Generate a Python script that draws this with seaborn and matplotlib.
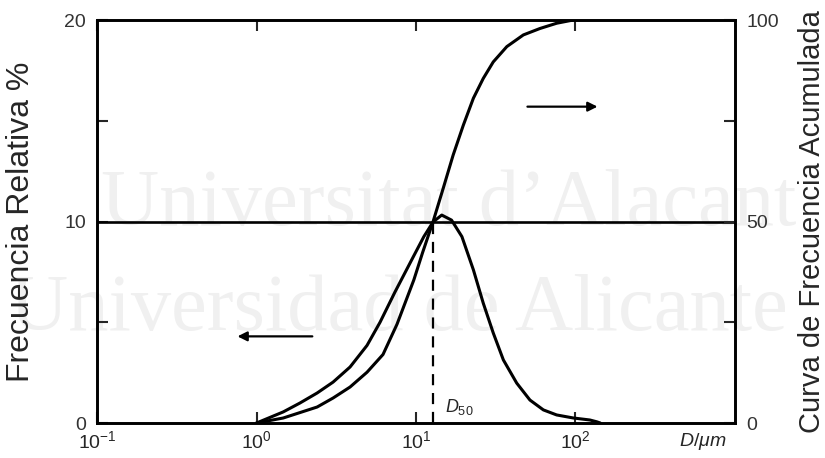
import numpy as np
import pandas as pd
from matplotlib import pyplot as plt
import seaborn as sns

# curva de frecuencia relativa (eje izquierdo, %)
freq_d = [1.0, 1.47, 1.87, 2.40, 3.02, 3.86, 4.93, 5.95, 7.38, 9.69, 11.2, 12.8, 14.5, 16.7, 19.4,
          22.9, 26.4, 30.5, 35.3, 42.8, 51.8, 62.9, 76.2, 96.8, 123, 136, 143]
freq_val = [0.0, 0.55, 0.99, 1.49, 2.03, 2.78, 3.85, 5.0, 6.5, 8.3, 9.25, 9.98, 10.32, 10.07, 9.25,
            7.6, 5.95, 4.47, 3.13, 1.98, 1.14, 0.65, 0.40, 0.25, 0.15, 0.06, 0.0]

# curva de frecuencia acumulada (eje derecho, %)
cum_d = [1.0, 1.47, 2.40, 3.02, 3.86, 4.93, 6.21, 7.60, 9.69, 11.0, 12.8, 14.8, 17.1, 19.8, 22.9,
         26.4, 30.5, 37.1, 47.1, 59.9, 76.2, 96.8]
cum_val = [0.0, 1.24, 3.97, 6.2, 8.93, 12.6, 17.0, 24.5, 35.5, 42.3, 50.0, 58.2, 66.5, 73.9, 80.6,
           85.5, 89.6, 93.4, 96.3, 97.9, 99.2, 100.0]

d50 = 12.8
x_ticks = [0.1, 1, 10, 100]
left_ticks = [0, 5, 10, 15, 20]
left_labels = ['0', '', '10', '', '20']
right_ticks = [0, 25, 50, 75, 100]
right_labels = ['0', '', '50', '', '100']

sns.set_style("ticks")
plt.rcParams['font.family'] = ['Liberation Sans', 'DejaVu Sans']
plt.rcParams['mathtext.fontset'] = 'custom'
plt.rcParams['mathtext.rm'] = 'Liberation Sans'
plt.rcParams['mathtext.it'] = 'Liberation Sans:italic'

df_f = pd.DataFrame({'D': freq_d, 'f': freq_val})
df_c = pd.DataFrame({'D': cum_d, 'c': cum_val})

fig = plt.figure(figsize=(8.25, 4.58), dpi=100)
ax = fig.add_axes([0.1176, 0.0764, 0.7733, 0.8799])
ax2 = ax.twinx()
ax.patch.set_alpha(0)
ax2.patch.set_alpha(0)

# marca de agua (detrás de todo)
wm = dict(family='Liberation Serif', color='#f0f0f0', fontsize=58, zorder=-5, transform=fig.transFigure)
fig.text(0.122, 1 - 225 / 458, 'Universitat d\u2019Alacant', **wm)
fig.text(0.012, 1 - 330 / 458, 'Universidad de Alicante', **wm)

sns.lineplot(data=df_f, x='D', y='f', ax=ax, color='black', lw=2.2, sort=False)
sns.lineplot(data=df_c, x='D', y='c', ax=ax2, color='black', lw=2.2, sort=False)

ax.set_xscale('log')
ax.set_xlim(0.1, 1000)
ax.set_ylim(0, 20)
ax2.set_ylim(0, 100)

ax.axhline(10, color='black', lw=1.9)
ax.plot([d50, d50], [0, 10], color='black', lw=1.6, ls=(0, (5, 3.5)))

# flechas
ax.annotate('', xy=(0.73, 4.3), xytext=(2.33, 4.3),
            arrowprops=dict(arrowstyle='-|>', color='black', lw=1.6, mutation_scale=14))
ax.annotate('', xy=(143, 15.7), xytext=(48, 15.7),
            arrowprops=dict(arrowstyle='-|>', color='black', lw=1.6, mutation_scale=14))

ax.text(15.2, 0.8, r'$\mathit{D_{50}}$', fontsize=13, va='center', ha='left')

ax.set_xticks(x_ticks)
ax.xaxis.set_minor_locator(plt.NullLocator())
ax.set_yticks(left_ticks)
ax.set_yticklabels(left_labels)
ax2.set_yticks(right_ticks)
ax2.set_yticklabels(right_labels)

ax.tick_params(axis='x', which='both', direction='in', length=8, width=1.5, top=True, pad=5, labelsize=14)
ax.tick_params(axis='y', direction='in', length=8, width=1.5, pad=8, labelsize=14, labelcolor='#333333')
ax2.tick_params(axis='y', direction='in', length=8, width=1.5, pad=8, labelsize=14, labelcolor='#333333')

for a in (ax, ax2):
    for s in a.spines.values():
        s.set_visible(True)
        s.set_linewidth(1.9)
        s.set_color('black')
    a.set_xlabel('')

ax.set_ylabel('Frecuencia Relativa %', fontsize=23, labelpad=20)
ax2.set_ylabel('Curva de Frecuencia Acumulada', fontsize=21, labelpad=14)
ax.text(0.95, -0.045, r'$\mathit{D/\mu m}$', transform=ax.transAxes, fontsize=14, ha='center', va='center')

fig.savefig('out.png', dpi=100)
